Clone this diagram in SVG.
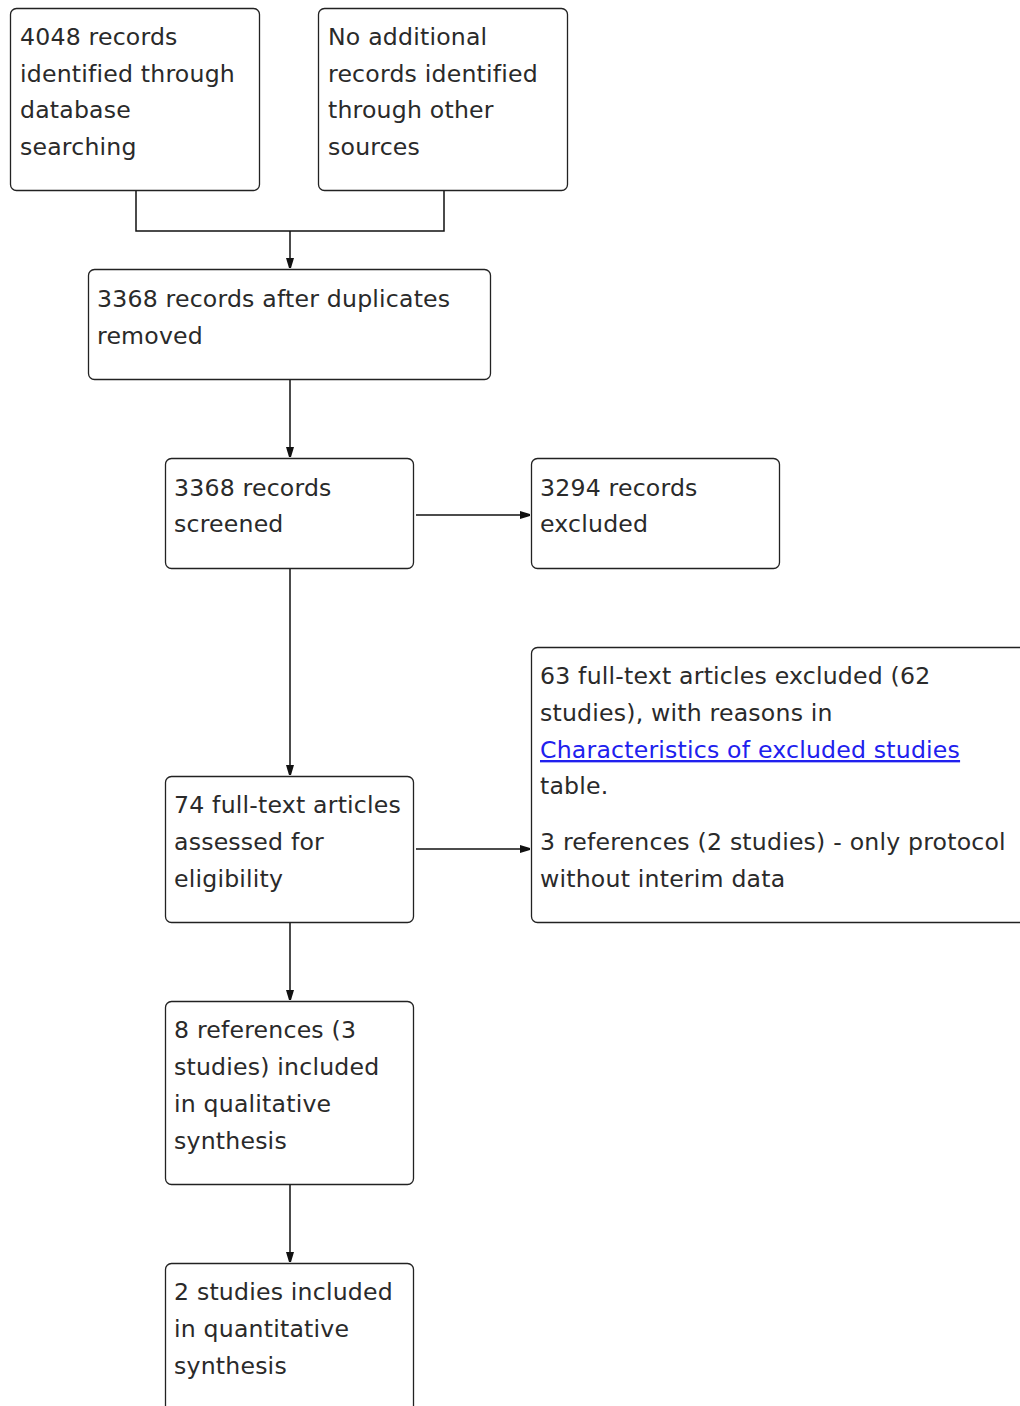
<svg xmlns="http://www.w3.org/2000/svg" width="1020" height="1406" viewBox="0 0 1020 1406">
<defs>
<style>
.box{fill:#fff;stroke:#222;stroke-width:1.3}
.t{font-family:"DejaVu Sans",Verdana,sans-serif;font-size:23.6px;letter-spacing:0.2px;fill:#2a2a2a}
.lnk{fill:#2020ee;text-decoration:underline}
.c{fill:none;stroke:#111;stroke-width:1.5}
</style>
<marker id="ah" markerWidth="12" markerHeight="10" refX="10" refY="5" orient="auto" markerUnits="userSpaceOnUse">
<path d="M0,1 L10,4 L10,6 L0,9 Z" fill="#111"/>
</marker>
</defs>
<rect width="1020" height="1406" fill="#fff"/>
<g id="connectors">
<path class="c" d="M136,190 V231 H444 V190"/>
<path class="c" d="M290,231 V268" marker-end="url(#ah)"/>
<path class="c" d="M290,379 V457" marker-end="url(#ah)"/>
<path class="c" d="M416,515 H530" marker-end="url(#ah)"/>
<path class="c" d="M290,568 V775" marker-end="url(#ah)"/>
<path class="c" d="M416,849 H530" marker-end="url(#ah)"/>
<path class="c" d="M290,922 V1000" marker-end="url(#ah)"/>
<path class="c" d="M290,1184 V1262" marker-end="url(#ah)"/>
</g>
<g id="n1">
<rect class="box" x="10.5" y="8.5" width="249" height="182" rx="6"/>
<text class="t" x="20" y="45">4048 records</text>
<text class="t" x="20" y="82">identified through</text>
<text class="t" x="20" y="118">database</text>
<text class="t" x="20" y="155">searching</text>
</g>
<g id="n2">
<rect class="box" x="318.5" y="8.5" width="249" height="182" rx="6"/>
<text class="t" x="328" y="45">No additional</text>
<text class="t" x="328" y="82">records identified</text>
<text class="t" x="328" y="118">through other</text>
<text class="t" x="328" y="155">sources</text>
</g>
<g id="n3">
<rect class="box" x="88.5" y="269.5" width="402" height="110" rx="6"/>
<text class="t" x="97" y="307">3368 records after duplicates</text>
<text class="t" x="97" y="344">removed</text>
</g>
<g id="n4">
<rect class="box" x="165.5" y="458.5" width="248" height="110" rx="6"/>
<text class="t" x="174" y="496">3368 records</text>
<text class="t" x="174" y="532">screened</text>
</g>
<g id="n5">
<rect class="box" x="531.5" y="458.5" width="248" height="110" rx="6"/>
<text class="t" x="540" y="496">3294 records</text>
<text class="t" x="540" y="532">excluded</text>
</g>
<g id="n6">
<rect class="box" x="531.5" y="647.5" width="520" height="275" rx="6"/>
<text class="t" x="540" y="684">63 full-text articles excluded (62</text>
<text class="t" x="540" y="721">studies), with reasons in</text>
<text class="t lnk" x="540" y="758">Characteristics of excluded studies</text>
<text class="t" x="540" y="794">table.</text>
<text class="t" x="540" y="850">3 references (2 studies) - only protocol</text>
<text class="t" x="540" y="887">without interim data</text>
</g>
<g id="n7">
<rect class="box" x="165.5" y="776.5" width="248" height="146" rx="6"/>
<text class="t" x="174" y="813">74 full-text articles</text>
<text class="t" x="174" y="850">assessed for</text>
<text class="t" x="174" y="887">eligibility</text>
</g>
<g id="n8">
<rect class="box" x="165.5" y="1001.5" width="248" height="183" rx="6"/>
<text class="t" x="174" y="1038">8 references (3</text>
<text class="t" x="174" y="1075">studies) included</text>
<text class="t" x="174" y="1112">in qualitative</text>
<text class="t" x="174" y="1149">synthesis</text>
</g>
<g id="n9">
<rect class="box" x="165.5" y="1263.5" width="248" height="183" rx="6"/>
<text class="t" x="174" y="1300">2 studies included</text>
<text class="t" x="174" y="1337">in quantitative</text>
<text class="t" x="174" y="1374">synthesis</text>
</g>
</svg>
